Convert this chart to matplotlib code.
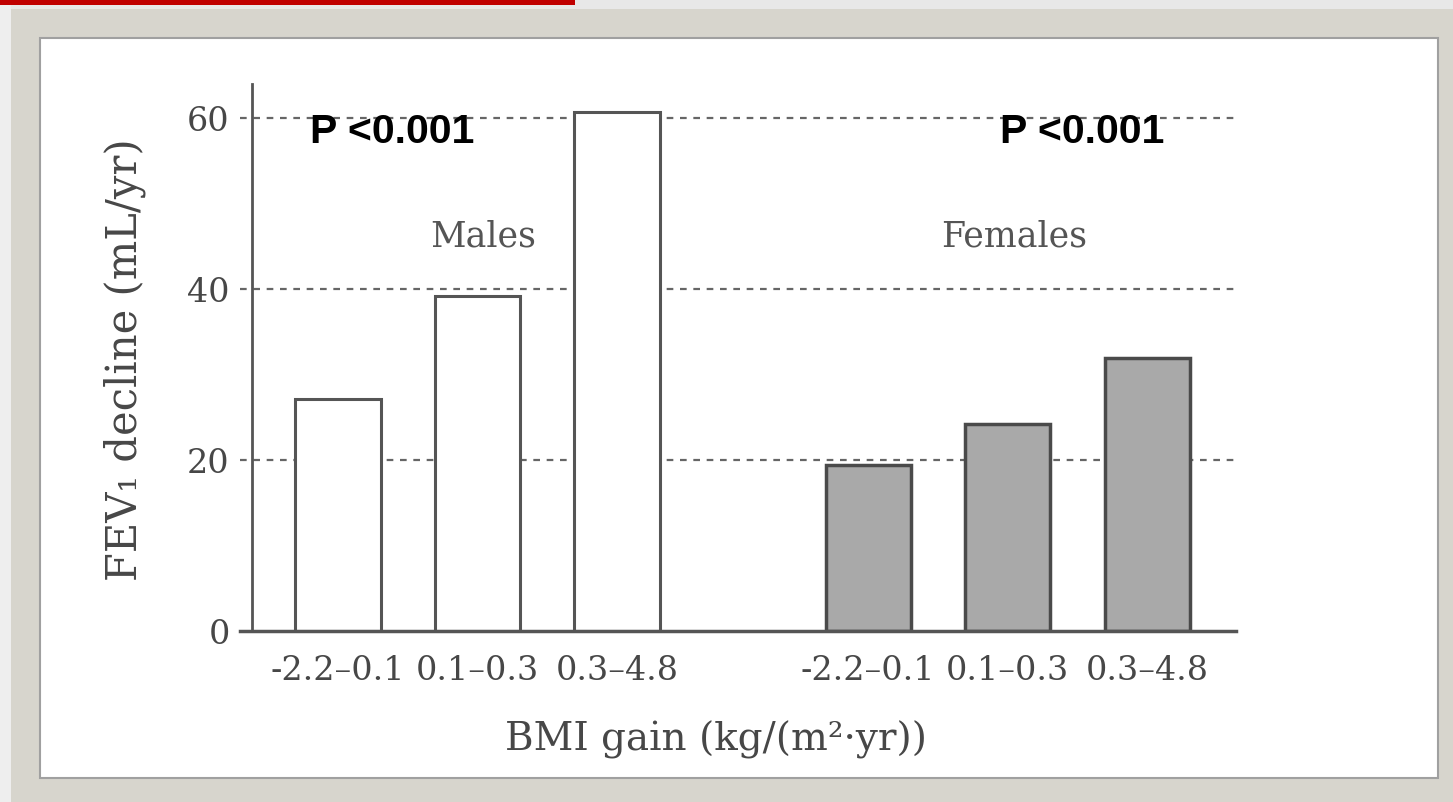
import matplotlib
matplotlib.use("Agg")
import matplotlib.pyplot as plt
from matplotlib.patches import Rectangle

# --- data ---------------------------------------------------------------
bmi_bins = ["-2.2–0.1", "0.1–0.3", "0.3–4.8"]
male_decline = [27.2, 39.2, 60.7]
female_decline = [19.4, 24.2, 32.0]
group_names = ["Males", "Females"]
p_values = ["P <0.001", "P <0.001"]
y_ticks = [0, 20, 40, 60]

# --- figure and slide-like framing --------------------------------------
W, H = 1453, 802
fig = plt.figure(figsize=(W / 100, H / 100), dpi=100)
fig.patch.set_facecolor("#d7d5cd")


def px_rect(x0, y0, x1, y1, **kw):
    """Rectangle in pixel units measured from the top-left corner, drawn behind the axes."""
    fig.add_artist(Rectangle((x0 / W, 1 - y1 / H), (x1 - x0) / W, (y1 - y0) / H,
                             transform=fig.transFigure, zorder=-10, **kw))


px_rect(0, 0, W, 9, facecolor="#e8e8e8", edgecolor="none")
px_rect(0, 0, 11, H, facecolor="#eeeeee", edgecolor="none")
px_rect(0, 0, 575, 5, facecolor="#c00000", edgecolor="none")
px_rect(40, 38, 1438, 778, facecolor="white", edgecolor="#a0a0a0", linewidth=1.5)

# --- axes ---------------------------------------------------------------
serif = "DejaVu Serif"
text_grey = "#474747"

y_top = 64
ax = fig.add_axes([240 / W, 1 - 631 / H, (1236 - 240) / W, (631 - 84) / H])
ax.set_facecolor("none")
ax.set_xlim(-0.7025, 6.437)
ax.set_ylim(0, y_top)

male_x = [0, 1, 2]
female_x = [3.8, 4.8, 5.8]
bar_w = 0.61

for y in y_ticks[1:]:
    ax.axhline(y, color="#666666", linewidth=1.6, linestyle=(0, (3, 3)), zorder=1)

ax.bar(male_x, male_decline, width=bar_w, color="white",
       edgecolor="#555555", linewidth=2.2, zorder=2)
ax.bar(female_x, female_decline, width=bar_w, color="#a9a9a9",
       edgecolor="#4a4a4a", linewidth=2.5, zorder=2)

for side in ("top", "right"):
    ax.spines[side].set_visible(False)
ax.spines["left"].set_position(("data", -0.6165))
ax.spines["left"].set_color("#555555")
ax.spines["left"].set_linewidth(2)
ax.spines["bottom"].set_color("#555555")
ax.spines["bottom"].set_linewidth(2.5)
ax.spines["left"].set_zorder(3)

ax.set_yticks(y_ticks)
ax.set_yticklabels([str(v) for v in y_ticks], family=serif, fontsize=24, color=text_grey)
ax.set_xticks(male_x + female_x)
ax.set_xticklabels(bmi_bins * 2, family=serif, fontsize=24, color=text_grey)
ax.tick_params(axis="y", length=0, pad=16)
ax.tick_params(axis="x", length=0, pad=17)

# group names
ax.text(1.04, 46.1, group_names[0], family=serif, fontsize=25, color="#555555",
        ha="center", va="center")
ax.text(4.85, 46.1, group_names[1], family=serif, fontsize=25, color="#555555",
        ha="center", va="center")

# significance annotations
for x0, label in zip([-0.2, 4.745], p_values):
    ax.text(x0, 57.1, label, family="Liberation Sans", fontweight="bold",
            fontsize=29.5, color="black", ha="left", va="baseline", zorder=4)

# axis titles
fig.text(125 / W, 1 - 360 / H, "FEV₁ decline (mL/yr)", family=serif, fontsize=30,
         color=text_grey, rotation=90, ha="center", va="center")
fig.text(716 / W, 1 - 740 / H, "BMI gain (kg/(m²·yr))", family=serif, fontsize=28,
         color=text_grey, ha="center", va="center")

fig.savefig("out.png", dpi=100, facecolor=fig.get_facecolor())
